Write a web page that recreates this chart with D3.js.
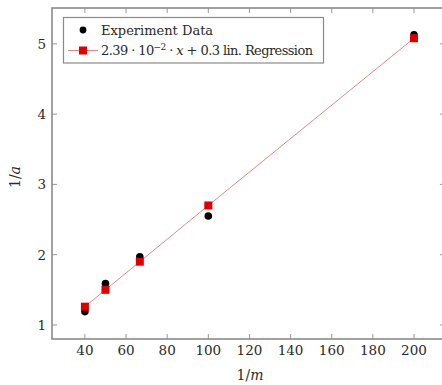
<!DOCTYPE html>
<html>
<head>
<meta charset="utf-8">
<script src="https://cdn.jsdelivr.net/npm/d3@7"></script>
<style>
  body { margin: 0; background: #fff; }
  svg { display: block; }
  text { font-family: "DejaVu Serif", "Liberation Serif", serif; fill: #2a2a2a; }
</style>
</head>
<body>
<div id="chart"></div>
<script>
// values
const xValues = [40, 50, 66.7, 100, 200];
const experiment = [1.19, 1.59, 1.97, 2.55, 5.13];
const regression = [1.26, 1.50, 1.90, 2.70, 5.08];
const xTicks = [40, 60, 80, 100, 120, 140, 160, 180, 200];
const yTicks = [1, 2, 3, 4, 5];
const legendLabels = ["Experiment Data", "lin. Regression"];

const width = 442, height = 385;
const margin = { top: 8, left: 52, bottom: 339 };

const x = d3.scaleLinear().domain([24, 216]).range([margin.left, 414 + 32.9]);
const y = d3.scaleLinear().domain([0.8, 5.51]).range([margin.bottom, margin.top]);

const svg = d3.select("#chart").append("svg")
  .attr("width", width)
  .attr("height", height);

const tickLen = 5;
const tickColor = "#999";

// ticks on all four sides, pointing inward
svg.append("g").selectAll("line.xb").data(xTicks).join("line")
  .attr("x1", d => x(d)).attr("x2", d => x(d))
  .attr("y1", margin.bottom).attr("y2", margin.bottom - tickLen)
  .attr("stroke", tickColor).attr("stroke-width", 1);
svg.append("g").selectAll("line.xt").data(xTicks).join("line")
  .attr("x1", d => x(d)).attr("x2", d => x(d))
  .attr("y1", margin.top).attr("y2", margin.top + tickLen)
  .attr("stroke", tickColor).attr("stroke-width", 1);
svg.append("g").selectAll("line.yl").data(yTicks).join("line")
  .attr("x1", margin.left).attr("x2", margin.left + tickLen)
  .attr("y1", d => y(d)).attr("y2", d => y(d))
  .attr("stroke", tickColor).attr("stroke-width", 1);
svg.append("g").selectAll("line.yr").data(yTicks).join("line")
  .attr("x1", x(216)).attr("x2", x(216) - tickLen - 2)
  .attr("y1", d => y(d)).attr("y2", d => y(d))
  .attr("stroke", tickColor).attr("stroke-width", 1);

// frame
svg.append("rect")
  .attr("x", margin.left).attr("y", margin.top)
  .attr("width", x(216) - margin.left).attr("height", margin.bottom - margin.top)
  .attr("fill", "none").attr("stroke", "#8a8a8a").attr("stroke-width", 1.6);

// tick labels
svg.append("g").selectAll("text").data(xTicks).join("text")
  .attr("x", d => x(d)).attr("y", 355)
  .attr("text-anchor", "middle")
  .attr("font-size", 13.5)
  .text(d => d);
svg.append("g").selectAll("text").data(yTicks).join("text")
  .attr("x", 46).attr("y", d => y(d) + 5)
  .attr("text-anchor", "end")
  .attr("font-size", 13.5)
  .text(d => d);

// axis labels
svg.append("text")
  .attr("x", 250).attr("y", 380)
  .attr("text-anchor", "middle").attr("font-size", 14)
  .html('1/<tspan font-style="italic">m</tspan>');
svg.append("text")
  .attr("transform", "translate(20,177) rotate(-90)")
  .attr("text-anchor", "middle").attr("font-size", 14)
  .html('1/<tspan font-style="italic">a</tspan>');

// regression line
const line = d3.line().x((d, i) => x(xValues[i])).y(d => y(d));
svg.append("path")
  .datum(regression)
  .attr("d", line)
  .attr("fill", "none")
  .attr("stroke", "#e08a8a")
  .attr("stroke-width", 1);

// experiment points
svg.append("g").selectAll("circle").data(experiment).join("circle")
  .attr("cx", (d, i) => x(xValues[i]))
  .attr("cy", d => y(d))
  .attr("r", 3.8)
  .attr("fill", "#000");

// regression squares
const sq = 8;
svg.append("g").selectAll("rect").data(regression).join("rect")
  .attr("x", (d, i) => x(xValues[i]) - sq / 2)
  .attr("y", d => y(d) - sq / 2)
  .attr("width", sq).attr("height", sq)
  .attr("fill", "#dd0000");

// legend
const legend = svg.append("g");
legend.append("rect")
  .attr("x", 63.5).attr("y", 17.5)
  .attr("width", 260).attr("height", 45.5)
  .attr("fill", "#fff")
  .attr("stroke", "#8a8a8a").attr("stroke-width", 1.2);
legend.append("circle")
  .attr("cx", 83).attr("cy", 30).attr("r", 3.4).attr("fill", "#000");
legend.append("text")
  .attr("x", 101).attr("y", 34.5).attr("font-size", 13)
  .text(legendLabels[0]);
legend.append("line")
  .attr("x1", 68).attr("x2", 98).attr("y1", 50.5).attr("y2", 50.5)
  .attr("stroke", "#e08a8a").attr("stroke-width", 1);
legend.append("rect")
  .attr("x", 79).attr("y", 46.5).attr("width", sq).attr("height", sq)
  .attr("fill", "#dd0000");
legend.append("text")
  .attr("x", 101).attr("y", 55).attr("font-size", 13)
  .attr("textLength", 212).attr("lengthAdjust", "spacing")
  .html('2.39 · 10<tspan dy="-5" font-size="9">−2</tspan><tspan dy="5"> · </tspan><tspan font-style="italic">x</tspan> + 0.3 ' + legendLabels[1]);
</script>
</body>
</html>
